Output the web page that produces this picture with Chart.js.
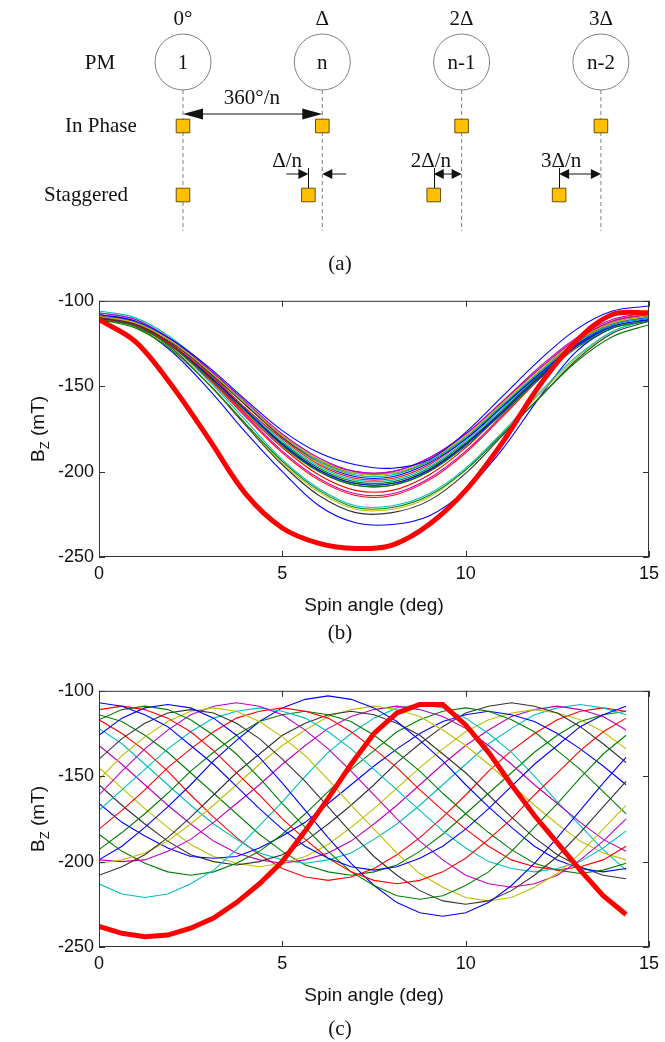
<!DOCTYPE html>
<html>
<head>
<meta charset="utf-8">
<script src="https://cdn.jsdelivr.net/npm/chart.js@4.4.1/dist/chart.umd.min.js"></script>
<style>
html, body { margin: 0; padding: 0; background: #fff; }
#page { position: relative; width: 665px; height: 1042px; overflow: hidden; }
canvas { position: absolute; left: 0; }
.caption { position: absolute; font: 21px "Liberation Serif", "Times New Roman", serif; color: #111; transform: translate(-50%, -50%); }
</style>
</head>
<body>
<div id="page">
  <canvas id="diagram" width="665" height="280" style="top:0"></canvas>
  <canvas id="inPhaseChart" width="665" height="345" style="top:285px"></canvas>
  <canvas id="staggeredChart" width="665" height="345" style="top:675px"></canvas>
  <div class="caption" style="left:340px; top:263px">(a)</div>
  <div class="caption" style="left:340px; top:632px">(b)</div>
  <div class="caption" style="left:340px; top:1028px">(c)</div>
</div>
<script>
// ---- (a) layout diagram: magnet slots and labels ----
const pmSlots = [0, 1, 2, 3];
const pmNames = ['1', 'n', 'n-1', 'n-2'];
const phaseNames = ['0°', 'Δ', '2Δ', '3Δ'];
const staggerShift = [0, 0.1, 0.2, 0.3];
const shiftNames = ['', 'Δ/n', '2Δ/n', '3Δ/n'];
const rowNames = ['PM', 'In Phase', 'Staggered'];

// ---- (b) in phase: spin angle (deg) and Bz (mT) ----
const inPhaseAngle = [0, 1, 2, 3, 4, 5, 6, 7, 8, 9, 10, 11, 12, 13, 14, 15];
const inPhaseThick = [-111, -124, -150, -181, -213, -233, -242, -245, -243, -231, -211, -183, -150, -124, -108, -107];
const inPhase01 = [-108, -112, -123, -139, -158, -176, -189, -196, -198, -193, -177, -156, -135, -117, -106, -103];
const inPhase02 = [-107, -111, -123, -140, -159, -178, -192, -200, -200, -192, -178, -159, -140, -123, -112, -108];
const inPhase03 = [-109, -113, -124, -141, -160, -179, -193, -201, -201, -193, -179, -160, -141, -124, -113, -109];
const inPhase04 = [-109, -113, -124, -140, -160, -179, -193, -200, -200, -192, -178, -159, -139, -122, -111, -107];
const inPhase05 = [-106, -110, -122, -140, -160, -179, -194, -202, -202, -194, -180, -161, -142, -125, -114, -110];
const inPhase06 = [-110, -114, -125, -142, -161, -180, -194, -201, -201, -194, -180, -161, -142, -125, -113, -109];
const inPhase07 = [-108, -112, -124, -141, -161, -180, -195, -202, -202, -194, -179, -160, -140, -123, -112, -108];
const inPhase08 = [-108, -112, -124, -141, -161, -180, -195, -203, -203, -195, -181, -162, -143, -126, -114, -110];
const inPhase09 = [-110, -114, -126, -143, -163, -181, -196, -204, -204, -196, -181, -162, -142, -124, -112, -108];
const inPhase10 = [-107, -111, -124, -142, -163, -182, -197, -205, -205, -197, -182, -163, -143, -126, -114, -110];
const inPhase11 = [-110, -114, -126, -144, -164, -184, -199, -207, -207, -199, -184, -165, -145, -127, -115, -111];
const inPhase12 = [-110, -114, -126, -144, -164, -183, -198, -206, -206, -198, -183, -164, -144, -127, -115, -111];
const inPhase13 = [-111, -115, -127, -145, -165, -185, -200, -208, -208, -200, -185, -166, -146, -128, -116, -112];
const inPhase14 = [-109, -113, -126, -144, -164, -184, -199, -207, -207, -199, -184, -165, -144, -126, -114, -110];
const inPhase15 = [-109, -113, -126, -144, -164, -184, -200, -208, -208, -200, -184, -165, -144, -126, -114, -110];
const inPhase16 = [-109, -113, -126, -145, -166, -186, -202, -211, -211, -202, -186, -165, -144, -125, -112, -108];
const inPhase17 = [-110, -115, -127, -146, -168, -189, -205, -214, -214, -205, -189, -168, -146, -127, -114, -109];
const inPhase18 = [-108, -113, -126, -145, -167, -188, -204, -213, -213, -204, -188, -167, -145, -126, -114, -109];
const inPhase19 = [-108, -113, -127, -147, -170, -193, -210, -220, -220, -213, -198, -177, -154, -133, -118, -111];
const inPhase20 = [-111, -116, -129, -149, -172, -194, -211, -221, -221, -214, -199, -178, -157, -136, -121, -114];
const inPhase21 = [-110, -115, -129, -149, -172, -195, -212, -222, -222, -215, -199, -178, -155, -134, -118, -111];
const inPhase22 = [-109, -114, -128, -149, -173, -196, -214, -224, -224, -217, -201, -179, -157, -135, -119, -112];
const inPhase23 = [-110, -115, -130, -152, -177, -200, -220, -230, -231, -226, -211, -187, -157, -130, -116, -112];
const inPhaseColors = ['b', 'm', 'y', 'm', 'c', 'k', 'y', 'b', 'r', 'c', 'b', 'g', 'g', 'g', 'k', 'r', 'r', 'm', 'c', 'g', 'y', 'k', 'b'];

// ---- (c) staggered: spin angle (deg) and Bz (mT) ----
const staggeredAngle = [0, 0.625, 1.25, 1.875, 2.5, 3.125, 3.75, 4.375, 5, 5.625, 6.25, 6.875, 7.5, 8.125, 8.75, 9.375, 10, 10.625, 11.25, 11.875, 12.5, 13.125, 13.75, 14.375];
const staggeredThick = [-238, -242, -244, -243, -239, -233, -224, -213, -200, -182, -163, -143, -125, -113, -108, -108, -120, -136, -155, -173, -189, -205, -220, -231];
const staggered00 = [-107, -109, -114, -121, -132, -143, -156, -169, -181, -191, -198, -203, -205, -203, -198, -191, -181, -169, -156, -143, -132, -121, -114, -109];
const staggered01 = [-111, -109, -111, -116, -124, -135, -148, -161, -175, -187, -198, -206, -211, -213, -211, -206, -198, -187, -175, -161, -148, -135, -124, -116];
const staggered02 = [-117, -111, -109, -111, -117, -126, -137, -151, -166, -180, -194, -206, -214, -220, -222, -220, -214, -206, -194, -180, -166, -151, -137, -126];
const staggered03 = [-126, -116, -110, -108, -110, -116, -126, -139, -154, -170, -186, -201, -214, -224, -230, -232, -230, -224, -214, -201, -186, -170, -154, -139];
const staggered04 = [-140, -128, -119, -113, -111, -113, -119, -128, -140, -153, -168, -183, -197, -208, -217, -223, -225, -223, -217, -208, -197, -183, -168, -153];
const staggered05 = [-152, -138, -127, -118, -112, -110, -112, -118, -127, -138, -152, -167, -181, -195, -207, -215, -221, -223, -221, -215, -207, -195, -181, -167];
const staggered06 = [-161, -147, -134, -123, -114, -109, -107, -109, -114, -123, -134, -147, -161, -175, -188, -199, -208, -213, -215, -213, -208, -199, -188, -175];
const staggered07 = [-170, -158, -146, -134, -124, -116, -112, -110, -112, -116, -124, -134, -146, -158, -170, -182, -192, -200, -204, -206, -204, -200, -192, -182];
const staggered08 = [-181, -170, -158, -145, -134, -124, -116, -112, -110, -112, -116, -124, -134, -145, -158, -170, -181, -191, -199, -203, -205, -203, -199, -191];
const staggered09 = [-193, -183, -172, -160, -147, -136, -126, -118, -114, -112, -114, -118, -126, -136, -147, -160, -172, -183, -193, -201, -205, -207, -205, -201];
const staggered10 = [-199, -191, -180, -168, -155, -141, -129, -118, -110, -105, -103, -105, -110, -118, -129, -141, -155, -168, -180, -191, -199, -204, -206, -204];
const staggered11 = [-208, -203, -196, -186, -174, -161, -148, -137, -126, -119, -114, -112, -114, -119, -126, -137, -148, -161, -174, -186, -196, -203, -208, -210];
const staggered12 = [-201, -199, -195, -188, -178, -167, -155, -143, -132, -123, -115, -111, -109, -111, -115, -123, -132, -143, -155, -167, -178, -188, -195, -199];
const staggered13 = [-199, -200, -199, -194, -187, -177, -166, -155, -143, -132, -122, -115, -111, -109, -111, -115, -122, -132, -143, -155, -166, -177, -187, -194];
const staggered14 = [-213, -219, -221, -219, -213, -205, -193, -179, -165, -150, -136, -125, -116, -110, -108, -110, -116, -125, -136, -150, -165, -179, -193, -205];
const staggered16 = [-184, -194, -201, -206, -208, -206, -201, -194, -184, -172, -159, -146, -135, -124, -117, -112, -110, -112, -117, -124, -135, -146, -159, -172];
const staggered17 = [-166, -177, -185, -192, -197, -198, -197, -192, -185, -177, -166, -155, -144, -134, -125, -118, -114, -112, -114, -118, -125, -134, -144, -155];
const staggered18 = [-155, -167, -178, -188, -196, -200, -202, -200, -196, -188, -178, -167, -155, -142, -131, -121, -113, -109, -107, -109, -113, -121, -131, -142];
const staggered19 = [-145, -157, -169, -180, -190, -197, -201, -203, -201, -197, -190, -180, -169, -157, -145, -134, -124, -117, -113, -111, -113, -117, -124, -134];
const staggered20 = [-132, -143, -155, -167, -178, -188, -195, -199, -201, -199, -195, -188, -178, -167, -155, -143, -132, -123, -115, -111, -109, -111, -115, -123];
const staggered21 = [-122, -131, -143, -155, -167, -178, -187, -195, -199, -201, -199, -195, -187, -178, -167, -155, -143, -131, -122, -114, -110, -108, -110, -114];
const staggered22 = [-117, -125, -135, -147, -161, -174, -186, -196, -204, -209, -211, -209, -204, -196, -186, -174, -161, -147, -135, -125, -117, -112, -110, -112];
const staggered23 = [-114, -118, -126, -136, -148, -160, -172, -184, -194, -202, -206, -208, -206, -202, -194, -184, -172, -160, -148, -136, -126, -118, -114, -112];
const staggeredColors = ['b', 'r', 'g', 'b', 'k', 'y', 'm', 'c', 'r', 'g', 'b', 'k', 'y', 'm', 'c', 'g', 'b', 'k', 'y', 'm', 'c', 'r', 'g'];

const xTicks = [0, 5, 10, 15];
const yTicks = [-250, -200, -150, -100];

const lineColor = { b: '#0000ff', g: '#008000', r: '#ff0000', c: '#00bfbf', m: '#bf00bf', y: '#bfbf00', k: '#333333' };
const sansFont = '"Liberation Sans", Arial, sans-serif';
const serifFont = '"Liberation Serif", "Times New Roman", serif';

// inward ticks on all four sides plus the box, like the matlab axes
const matlabFrame = {
  id: 'matlabFrame',
  afterDatasetsDraw(chart) {
    const { ctx, chartArea: a, scales: { x, y } } = chart;
    ctx.save();
    ctx.strokeStyle = '#333';
    ctx.lineWidth = 1;
    ctx.strokeRect(a.left + 0.5, a.top + 0.5, a.width - 1, a.height - 1);
    ctx.beginPath();
    x.ticks.forEach((t) => {
      const px = Math.round(x.getPixelForValue(t.value)) + 0.5;
      ctx.moveTo(px, a.bottom); ctx.lineTo(px, a.bottom - 6);
      ctx.moveTo(px, a.top); ctx.lineTo(px, a.top + 6);
    });
    y.ticks.forEach((t) => {
      const py = Math.round(y.getPixelForValue(t.value)) + 0.5;
      ctx.moveTo(a.left, py); ctx.lineTo(a.left + 6, py);
      ctx.moveTo(a.right, py); ctx.lineTo(a.right - 6, py);
    });
    ctx.stroke();
    ctx.restore();
  }
};

// y title with the subscript Z
const bzTitle = {
  id: 'bzTitle',
  afterDraw(chart) {
    const { ctx, chartArea: a } = chart;
    const big = '19px ' + sansFont;
    const small = '13px ' + sansFont;
    ctx.save();
    ctx.translate(37, (a.top + a.bottom) / 2);
    ctx.rotate(-Math.PI / 2);
    ctx.fillStyle = '#111';
    ctx.textBaseline = 'alphabetic';
    ctx.font = big;
    const wB = ctx.measureText('B').width;
    const wRest = ctx.measureText(' (mT)').width;
    ctx.font = small;
    const wZ = ctx.measureText('Z').width;
    let sx = -(wB + wZ + wRest) / 2;
    ctx.font = big; ctx.fillText('B', sx, 7); sx += wB;
    ctx.font = small; ctx.fillText('Z', sx, 12); sx += wZ;
    ctx.font = big; ctx.fillText(' (mT)', sx, 7);
    ctx.restore();
  }
};

function curveChart(id, angles, thick, thinList, colors, tension) {
  const datasets = [{
    data: angles.map((a, i) => ({ x: a, y: thick[i] })),
    borderColor: '#ff0000',
    borderWidth: 5
  }];
  thinList.forEach((s, n) => {
    datasets.push({
      data: angles.map((a, i) => ({ x: a, y: s[i] })),
      borderColor: lineColor[colors[n]],
      borderWidth: 1.1
    });
  });
  return new Chart(document.getElementById(id), {
    type: 'line',
    data: { datasets },
    plugins: [matlabFrame, bzTitle],
    options: {
      responsive: false,
      animation: false,
      events: [],
      layout: { autoPadding: false, padding: { top: 14, right: 11, bottom: 13, left: 0 } },
      elements: { point: { radius: 0 }, line: { tension, capBezierPoints: true } },
      plugins: { legend: { display: false }, tooltip: { enabled: false } },
      scales: {
        x: {
          type: 'linear', min: 0, max: 15,
          afterFit: (s) => { s.height = 60; },
          afterBuildTicks: (s) => { s.ticks = xTicks.map((v) => ({ value: v })); },
          ticks: { color: '#111', font: { family: sansFont, size: 18 }, padding: 6, maxRotation: 0 },
          grid: { display: false, drawTicks: false },
          border: { display: false },
          title: { display: true, text: 'Spin angle (deg)', color: '#111', font: { family: sansFont, size: 19 }, padding: 0 }
        },
        y: {
          type: 'linear', min: -250, max: -100,
          afterFit: (s) => { s.width = 99; },
          afterBuildTicks: (s) => { s.ticks = yTicks.map((v) => ({ value: v })); },
          ticks: { color: '#111', font: { family: sansFont, size: 18 }, padding: 5 },
          grid: { display: false, drawTicks: false },
          border: { display: false }
        }
      }
    }
  });
}

curveChart('inPhaseChart', inPhaseAngle, inPhaseThick, [
  inPhase01, inPhase02, inPhase03, inPhase04, inPhase05, inPhase06, inPhase07, inPhase08,
  inPhase09, inPhase10, inPhase11, inPhase12, inPhase13, inPhase14, inPhase15, inPhase16,
  inPhase17, inPhase18, inPhase19, inPhase20, inPhase21, inPhase22, inPhase23
], inPhaseColors, 0.35);

curveChart('staggeredChart', staggeredAngle, staggeredThick, [
  staggered00, staggered01, staggered02, staggered03, staggered04, staggered05, staggered06, staggered07,
  staggered08, staggered09, staggered10, staggered11, staggered12, staggered13, staggered14, staggered16,
  staggered17, staggered18, staggered19, staggered20, staggered21, staggered22, staggered23
], staggeredColors, 0);

// ---- diagram (a) drawn on a chart with hidden axes ----
const slotPx = 139.3;
const diagXMin = -183 / slotPx;
const diagXMax = diagXMin + 665 / slotPx;
const pmRowY = 62, inPhaseRowY = 126, staggeredRowY = 195;

function arrowHead(ctx, tipX, tipY, dir, len, half) {
  ctx.beginPath();
  ctx.moveTo(tipX, tipY);
  ctx.lineTo(tipX - dir * len, tipY - half);
  ctx.lineTo(tipX - dir * len, tipY + half);
  ctx.closePath();
  ctx.fill();
}

const diagramMarks = {
  id: 'diagramMarks',
  afterDatasetsDraw(chart) {
    const { ctx, scales: { x, y } } = chart;
    const px = (v) => x.getPixelForValue(v);
    const py = (v) => y.getPixelForValue(v);
    ctx.save();
    ctx.fillStyle = '#111';
    ctx.strokeStyle = '#111';
    ctx.font = '21px ' + serifFont;
    ctx.textAlign = 'center';
    ctx.textBaseline = 'middle';
    pmSlots.forEach((s, i) => {
      ctx.fillText(phaseNames[i], px(s), py(19));
      ctx.fillText(pmNames[i], px(s), py(pmRowY + 1));
    });
    ctx.fillText(rowNames[0], px(-0.596), py(pmRowY + 1));
    ctx.fillText(rowNames[1], px(-0.589), py(inPhaseRowY));
    ctx.fillText(rowNames[2], px(-0.696), py(staggeredRowY));

    // 360°/n spacing arrow
    ctx.lineWidth = 1;
    const ay = py(114);
    ctx.beginPath();
    ctx.moveTo(px(0) + 10, ay); ctx.lineTo(px(1) - 10, ay);
    ctx.stroke();
    arrowHead(ctx, px(0), ay, -1, 20, 5.5);
    arrowHead(ctx, px(1), ay, 1, 20, 5.5);
    ctx.fillText('360°/n', px(0.495), py(98));

    // stagger offsets
    const sy = py(174);
    const shiftLabelX = [0, 0.747, 1.78, 2.714];
    pmSlots.forEach((s, i) => {
      if (i === 0) return;
      const sx = px(s - staggerShift[i]);
      const dx = px(s);
      ctx.beginPath();
      ctx.moveTo(Math.round(sx) + 0.5, py(168)); ctx.lineTo(Math.round(sx) + 0.5, py(188));
      ctx.stroke();
      if (i === 1) {
        ctx.beginPath();
        ctx.moveTo(sx - 22, sy); ctx.lineTo(sx - 8, sy);
        ctx.moveTo(dx + 24, sy); ctx.lineTo(dx + 8, sy);
        ctx.stroke();
        arrowHead(ctx, sx, sy, 1, 10, 5);
        arrowHead(ctx, dx, sy, -1, 10, 5);
      } else {
        ctx.beginPath();
        ctx.moveTo(sx + 8, sy); ctx.lineTo(dx - 8, sy);
        ctx.stroke();
        arrowHead(ctx, sx, sy, -1, 10, 5);
        arrowHead(ctx, dx, sy, 1, 10, 5);
      }
      ctx.fillText(shiftNames[i], px(shiftLabelX[i]), py(161));
    });
    ctx.restore();
  }
};

const squareStyle = {
  pointStyle: 'rect', pointRadius: 9.6, backgroundColor: '#ffc000',
  borderColor: '#6b5200', borderWidth: 1, showLine: false
};
const diagramSets = [
  Object.assign({ data: pmSlots.map((s) => ({ x: s, y: inPhaseRowY })) }, squareStyle),
  Object.assign({ data: pmSlots.map((s, i) => ({ x: s - staggerShift[i], y: staggeredRowY })) }, squareStyle),
  {
    data: pmSlots.map((s) => ({ x: s, y: pmRowY })),
    pointStyle: 'circle', pointRadius: 28, backgroundColor: '#fff',
    borderColor: '#808080', borderWidth: 1, showLine: false
  }
];
pmSlots.forEach((s) => {
  diagramSets.push({
    data: [{ x: s, y: 90 }, { x: s, y: 231 }],
    showLine: true, pointRadius: 0, borderColor: '#808080',
    borderWidth: 1, borderDash: [4, 3]
  });
});

new Chart(document.getElementById('diagram'), {
  type: 'scatter',
  data: { datasets: diagramSets },
  plugins: [diagramMarks],
  options: {
    responsive: false,
    animation: false,
    events: [],
    layout: { autoPadding: false, padding: 0 },
    plugins: { legend: { display: false }, tooltip: { enabled: false } },
    scales: {
      x: { type: 'linear', display: false, min: diagXMin, max: diagXMax },
      y: { type: 'linear', display: false, min: 0, max: 280, reverse: true }
    }
  }
});
</script>
</body>
</html>
